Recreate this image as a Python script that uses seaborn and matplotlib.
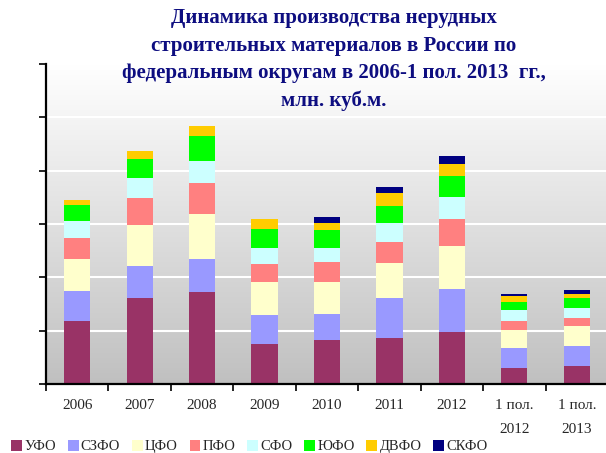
import numpy as np
import pandas as pd
import matplotlib
matplotlib.use("Agg")
import matplotlib.pyplot as plt
import seaborn as sns
from matplotlib.patches import Patch

categories = ["2006", "2007", "2008", "2009", "2010", "2011", "2012", "1 пол.\n2012", "1 пол.\n2013"]
series_names = ["УФО", "СЗФО", "ЦФО", "ПФО", "СФО", "ЮФО", "ДВФО", "СКФО"]
ufo = [59.3, 80.2, 86.5, 37.8, 41.5, 43.4, 49.0, 15.3, 17.2]
szfo = [28.1, 30.6, 30.9, 27.2, 24.3, 37.5, 40.3, 18.7, 18.7]
cfo = [30.0, 38.4, 42.1, 30.9, 30.0, 32.8, 40.3, 16.9, 18.7]
pfo = [19.7, 25.3, 29.0, 16.9, 18.7, 19.7, 25.3, 8.4, 7.5]
sfo = [15.9, 18.7, 20.6, 15.0, 13.1, 17.8, 20.6, 10.3, 9.4]
yufo = [14.4, 17.8, 23.4, 17.8, 16.9, 15.9, 19.7, 7.5, 9.4]
dvfo = [5.3, 7.5, 9.4, 9.4, 6.6, 12.2, 11.2, 5.6, 3.7]
skfo = [0.0, 0.0, 0.0, 0.0, 5.6, 5.6, 7.5, 1.9, 3.7]
colors = ["#993366", "#9999FF", "#FFFFCC", "#FF8080", "#CCFFFF", "#00FF00", "#FFCC00", "#000080"]

title = "Динамика производства нерудных\nстроительных материалов в России по\nфедеральным округам в 2006-1 пол. 2013  гг.,\nмлн. куб.м."

sns.set_style("white")
plt.rcParams["font.family"] = ["Liberation Serif", "DejaVu Serif"]

data = np.array([ufo, szfo, cfo, pfo, sfo, yufo, dvfo, skfo])
cum = np.cumsum(data, axis=0)

fig = plt.figure(figsize=(6.06, 4.53), dpi=100)
ax = fig.add_axes([46 / 606, 69 / 453, 562 / 606, 320 / 453])

# gradient background
grad = np.linspace(0, 1, 256).reshape(-1, 1)
cmap = matplotlib.colors.LinearSegmentedColormap.from_list("g", ["#c0c0c0", "#ffffff"])
ax.imshow(grad, extent=[-0.5, 8.5, 0, 300], origin="lower", aspect="auto", cmap=cmap, zorder=0)

for y in [50, 100, 150, 200, 250]:
    ax.axhline(y, color="white", lw=1.5, zorder=0.5)

for i in range(len(series_names) - 1, -1, -1):
    df = pd.DataFrame({"cat": categories, "val": cum[i]})
    sns.barplot(data=df, x="cat", y="val", color=colors[i], saturation=1, width=0.42,
                ax=ax, zorder=2, linewidth=0, order=categories)

ax.set_xlim(-0.5, 8.5)
ax.set_ylim(0, 300)
ax.set_xlabel("")
ax.set_ylabel("")
for s in ["top", "right"]:
    ax.spines[s].set_visible(False)
for s in ["left", "bottom"]:
    ax.spines[s].set_color("black")
    ax.spines[s].set_linewidth(1.6)
    ax.spines[s].set_zorder(5)

ax.set_yticks(np.arange(0, 301, 50))
ax.set_yticklabels([])
ax.tick_params(axis="y", direction="out", length=5, width=1.2, color="black", left=True)

ax.set_xticks(np.arange(-0.5, 9, 1))
ax.set_xticklabels([])
ax.set_xticks(np.arange(9), minor=True)
ax.set_xticklabels(categories, minor=True, fontsize=11)
ax.tick_params(axis="x", which="major", direction="out", length=5, width=1.2, color="black", bottom=True)
ax.tick_params(axis="x", which="minor", length=0, pad=11)
for lab in ax.get_xticklabels(minor=True):
    lab.set_linespacing(2.1)
    lab.set_verticalalignment("top")

fig.text(0.551, 1 - 8 / 453, title, ha="center", va="top", fontsize=15, fontweight="bold",
         color="#0d0d80", linespacing=1.5, multialignment="center")

handles = [Patch(facecolor=c, edgecolor="none", label=n) for c, n in zip(colors, series_names)]
fig.legend(handles=handles, loc="lower left", bbox_to_anchor=(-0.003, -0.03), ncol=8, frameon=False,
           handlelength=0.75, handleheight=0.75, handletextpad=0.15, columnspacing=0.8,
           prop={"size": 10.5})

fig.savefig("out.png", dpi=100)
